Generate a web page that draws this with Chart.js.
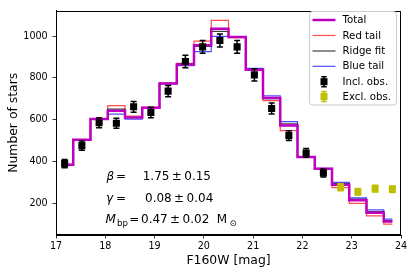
<!DOCTYPE html>
<html><head><meta charset="utf-8">
<script src="https://cdn.jsdelivr.net/npm/chart.js@4"></script>
<style>html,body{margin:0;padding:0;background:#fff;}#wrap{position:relative;width:415px;height:276px;}</style>
</head><body><div id="wrap"><canvas id="c" width="415" height="276"></canvas></div>
<script>
// ---- data ----
const binCenters = [17.175,17.525,17.875,18.225,18.575,18.925,19.275,19.625,19.975,20.325,20.675,21.025,21.375,21.725,22.075,22.425,22.775,23.125,23.475,23.825];
const totalModel = [384,503,603,642,610,657,773,864,956,1035,995,839,703,571,421,364,288,214,154,112];
const redTail    = [385,504,605,667,617,658,774,869,976,1075,992,841,691,547,419,362,274,198,139,99];
const ridgeFit   = [384,503,603,650,610,657,773,865,950,1022,997,840,700,579,421,364,293,219,159,116];
const blueTail   = [383,502,601,626,602,655,771,858,925,998,997,845,713,590,423,366,299,225,167,123];
const inclMag = [17.175,17.525,17.875,18.225,18.575,18.925,19.275,19.625,19.975,20.325,20.675,21.025,21.375,21.725,22.075,22.425];
const inclObs = [389,475,585,582,661,634,736,878,948,979,948,814,653,523,440,344];
const inclErr = [20,22,24,24,26,25,27,30,31,31,31,29,26,23,21,19];
const exclMag = [22.775,23.125,23.475,23.825];
const exclObs = [276,254,269,266];
const exclErr = [17,16,16,16];
const xTicks = [17,18,19,20,21,22,23,24];
const yTicks = [200,400,600,800,1000];
const legendLabels = ['Total','Red tail','Ridge fit','Blue tail','Incl. obs.','Excl. obs.'];

const C_TOTAL = '#bf00bf', C_RED = 'rgba(255,0,0,0.7)', C_RIDGE = 'rgba(0,0,0,0.75)', C_BLUE = 'rgba(0,0,255,0.7)', C_INCL = '#000000', C_EXCL = '#bfbf00';
const FONT = "'DejaVu Sans', sans-serif";

const pts = (xs, ys) => xs.map((x, i) => ({x, y: ys[i]}));
const lineDs = (label, ys, color, w, order) => ({label, data: pts(binCenters, ys), borderColor: color, borderWidth: w, stepped: 'middle', pointRadius: 0, fill: false, order});

const errorBars = {
  id: 'errorBars',
  beforeDatasetDraw(chart, args) {
    const ds = chart.data.datasets[args.index];
    if (!ds.errors) return;
    const xs = chart.scales.x, ys = chart.scales.y, ctx = chart.ctx;
    ctx.save();
    ctx.strokeStyle = ds.backgroundColor; ctx.lineWidth = 1.5;
    ds.data.forEach((p, i) => {
      const px = xs.getPixelForValue(p.x);
      const y1 = ys.getPixelForValue(p.y - ds.errors[i]);
      const y2 = ys.getPixelForValue(p.y + ds.errors[i]);
      ctx.beginPath();
      ctx.moveTo(px, y1); ctx.lineTo(px, y2);
      ctx.moveTo(px - 3, y1); ctx.lineTo(px + 3, y1);
      ctx.moveTo(px - 3, y2); ctx.lineTo(px + 3, y2);
      ctx.stroke();
    });
    ctx.restore();
  }
};

const frame = {
  id: 'frame',
  afterDraw(chart) {
    const {ctx, chartArea: a} = chart;
    ctx.save();
    ctx.strokeStyle = '#000'; ctx.lineWidth = 1;
    ctx.strokeRect(Math.round(a.left) + 0.5, Math.round(a.top) + 0.5, Math.round(a.right - a.left) - 1, Math.round(a.bottom - a.top) - 1);
    ctx.restore();
  }
};

const legendBox = {
  id: 'legendBox',
  afterDraw(chart) {
    const ctx = chart.ctx;
    ctx.save();
    ctx.beginPath();
    ctx.roundRect(309.5, 11.5, 87, 93.5, 3);
    ctx.fillStyle = 'rgba(255,255,255,0.85)'; ctx.fill();
    ctx.strokeStyle = '#cccccc'; ctx.lineWidth = 1; ctx.stroke();
    const rows = [20, 35.5, 51, 66.3, 81.7, 96.5];
    const lines = [[C_TOTAL, 2.5], [C_RED, 1.2], [C_RIDGE, 1.2], [C_BLUE, 1.2]];
    lines.forEach(([c, w], i) => {
      ctx.beginPath(); ctx.strokeStyle = c; ctx.lineWidth = w;
      ctx.moveTo(312.5, rows[i]); ctx.lineTo(335.5, rows[i]); ctx.stroke();
    });
    [C_INCL, C_EXCL].forEach((c, k) => {
      const y = rows[4 + k], x = 324;
      ctx.strokeStyle = c; ctx.fillStyle = c; ctx.lineWidth = 1.5;
      ctx.beginPath();
      ctx.moveTo(x, y - 5); ctx.lineTo(x, y + 5);
      ctx.moveTo(x - 2.7, y - 5); ctx.lineTo(x + 2.7, y - 5);
      ctx.moveTo(x - 2.7, y + 5); ctx.lineTo(x + 2.7, y + 5);
      ctx.stroke();
      ctx.fillRect(x - 3.5, y - 3.5, 7, 7);
    });
    ctx.fillStyle = '#000'; ctx.font = '10.2px ' + FONT; ctx.textBaseline = 'middle'; ctx.textAlign = 'left';
    legendLabels.forEach((t, i) => ctx.fillText(t, 342.5, rows[i] + 0.5));
    ctx.restore();
  }
};

const annot = {
  id: 'annot',
  afterDraw(chart) {
    const ctx = chart.ctx;
    ctx.save();
    ctx.fillStyle = '#000'; ctx.textBaseline = 'alphabetic'; ctx.textAlign = 'left';
    const it = 'italic 12px ' + FONT, rg = '12px ' + FONT, sm = '8.6px ' + FONT;
    // beta row
    ctx.font = it; ctx.fillText('\u03B2', 106.5, 180);
    ctx.font = rg; ctx.fillText('=', 116, 180);
    ctx.fillText('1.75\u2009\u00B1\u20090.15', 142.7, 180);
    // gamma row
    ctx.font = it; ctx.fillText('\u03B3', 106, 201.7);
    ctx.font = rg; ctx.fillText('=', 116, 201.7);
    ctx.fillText('0.08\u2009\u00B1\u20090.04', 145, 201.7);
    // M_bp row
    ctx.font = it; ctx.fillText('M', 105.5, 223.3);
    ctx.font = sm; ctx.fillText('bp', 117, 226);
    ctx.font = rg; ctx.fillText('=', 129.3, 223.3);
    ctx.fillText('0.47\u2009\u00B1\u20090.02', 141, 223.3);
    ctx.fillText('M', 216.7, 223.3);
    ctx.font = sm; ctx.fillText('\u2299', 229.5, 226);
    ctx.restore();
  }
};

new Chart(document.getElementById('c'), {
  type: 'line',
  data: {
    datasets: [
      {label: 'Incl. obs.', data: pts(inclMag, inclObs), errors: inclErr, showLine: false, pointStyle: 'rect', pointRadius: 5, backgroundColor: C_INCL, borderColor: C_INCL, borderWidth: 0, order: 0},
      {label: 'Excl. obs.', data: pts(exclMag, exclObs), errors: exclErr, showLine: false, pointStyle: 'rect', pointRadius: 5, backgroundColor: C_EXCL, borderColor: C_EXCL, borderWidth: 0, order: 0},
      lineDs('Total', totalModel, C_TOTAL, 2.5, 1),
      lineDs('Blue tail', blueTail, C_BLUE, 1.2, 2),
      lineDs('Ridge fit', ridgeFit, C_RIDGE, 1.2, 3),
      lineDs('Red tail', redTail, C_RED, 1.2, 4)
    ]
  },
  options: {
    responsive: false, animation: false, devicePixelRatio: 1,
    layout: {padding: {left: 0, right: 14, top: 7, bottom: 0}},
    plugins: {legend: {display: false}, tooltip: {enabled: false}},
    scales: {
      x: {
        type: 'linear', min: 17, max: 24,
        afterBuildTicks: s => { s.ticks = xTicks.map(v => ({value: v})); },
        afterFit: s => { s.height = 41; },
        grid: {display: true, drawOnChartArea: false, tickLength: 3.5, tickColor: '#000', tickWidth: 0.8},
        border: {display: true, color: '#000', width: 1},
        ticks: {color: '#000', font: {family: FONT, size: 9.6}, padding: 2.5, maxRotation: 0, callback: v => String(v)},
        title: {display: true, text: 'F160W [mag]', color: '#000', font: {family: FONT, size: 12.4}, padding: {top: 0, bottom: 8}}
      },
      y: {
        type: 'linear', min: 47, max: 1122,
        afterBuildTicks: s => { s.ticks = yTicks.map(v => ({value: v})); },
        afterFit: s => { s.width = 56; },
        grid: {display: true, drawOnChartArea: false, tickLength: 3.5, tickColor: '#000', tickWidth: 0.8},
        border: {display: true, color: '#000', width: 1},
        ticks: {color: '#000', font: {family: FONT, size: 9.6}, padding: 4.8, callback: v => String(v)},
        title: {display: true, text: 'Number of stars', color: '#000', font: {family: FONT, size: 12.4}, padding: {top: 6, bottom: 0}}
      }
    }
  },
  plugins: [errorBars, frame, legendBox, annot]
});
</script></body></html>
